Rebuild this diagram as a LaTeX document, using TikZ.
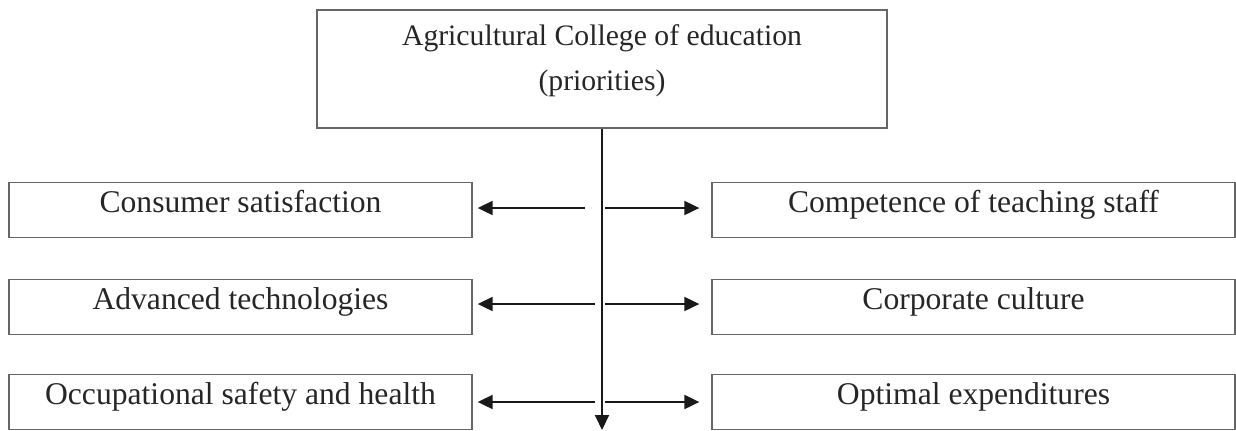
\documentclass[tikz,border=0pt]{standalone}
\usepackage{fontspec}
\setmainfont{Liberation Serif}
\usetikzlibrary{arrows.meta}
\usepackage{xcolor}

\begin{document}
\begin{tikzpicture}[x=0.02cm,y=-0.02cm,
  frame/.style={draw=black!60, line width=0.8pt, text=black!85, inner sep=0pt,
    font=\fontsize{18pt}{21.6pt}\selectfont},
  box/.style={frame, text height=0.4cm, text depth=0.32cm, minimum height=1.11cm},
  lbox/.style={box, minimum width=9.26cm},
  rbox/.style={box, minimum width=10.46cm},
  arr/.style={black!90, line width=1.1pt, ->, >={Triangle[length=0.3cm,width=0.28cm]}}]
\useasboundingbox (0,0) rectangle (1236,430);

\node[frame, align=center, minimum width=11.4cm, minimum height=2.36cm,
  font=\fontsize{16.9pt}{25.6pt}\selectfont, text depth=0.47cm] (college) at (602,69)
  {Agricultural College of education\\(priorities)};

\node[lbox] (consumer) at (240.5,210) {Consumer satisfaction};
\node[lbox] (advanced) at (240.5,307) {Advanced technologies};
\node[lbox] (safety)   at (240.5,402) {Occupational safety and health};

\node[rbox] (competence) at (973.5,210) {Competence of teaching staff};
\node[rbox] (corporate)  at (973.5,307) {Corporate culture};
\node[rbox] (expend)     at (973.5,402) {Optimal expenditures};

\coordinate (bottom) at (602,430);
\draw[arr] (college.south) -- (bottom);

\foreach \n/\m/\y/\s in {consumer/competence/208/585, advanced/corporate/304/595, safety/expend/402/595} {
  \coordinate (sl) at (\s,\y);
  \coordinate (sr) at (605,\y);
  \draw[arr, shorten >=0.1cm] (sl) -- (sl -| \n.east);
  \draw[arr, shorten >=0.24cm] (sr) -- (sr -| \m.west);
}
\end{tikzpicture}
\end{document}
